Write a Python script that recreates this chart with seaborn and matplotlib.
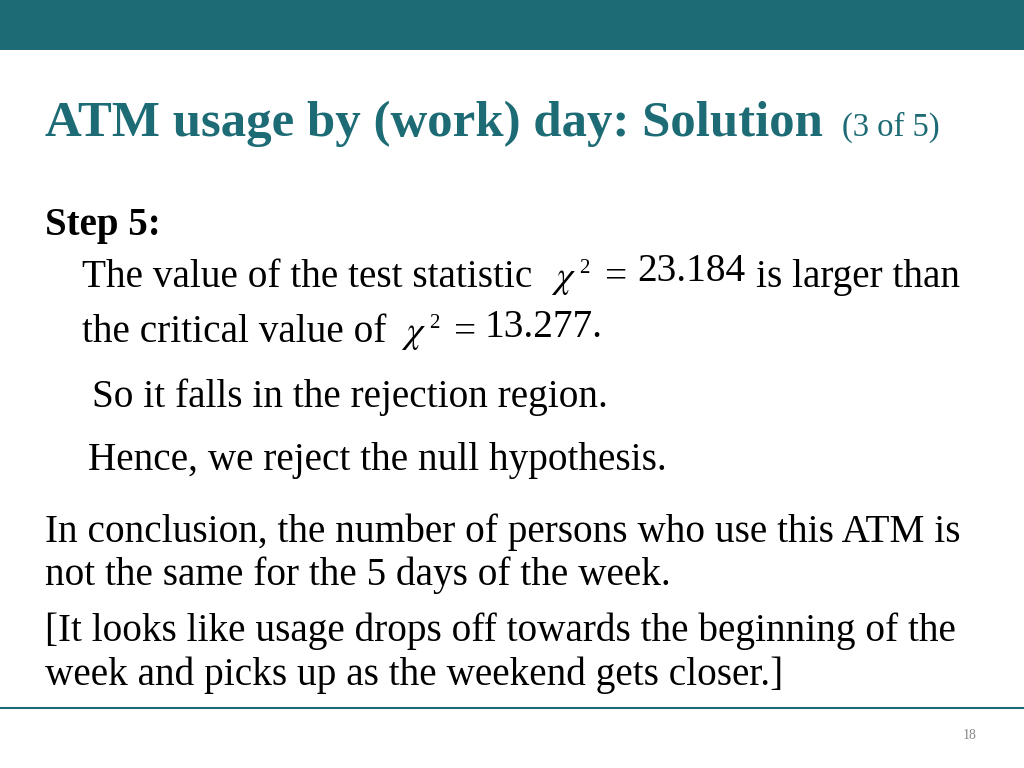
import numpy as np
import matplotlib
matplotlib.use("Agg")
import matplotlib.pyplot as plt
import seaborn as sns

# Contenido de la diapositiva
titulo = "ATM usage by (work) day: Solution"
subtitulo = "(3 of 5)"
paso = "Step 5:"
estadistico = 23.184
critico = 13.277
lineas_paso = [
    "So it falls in the rejection region.",
    "Hence, we reject the null hypothesis.",
]
lineas_conclusion = [
    "In conclusion, the number of persons who use this ATM is",
    "not the same for the 5 days of the week.",
    "[It looks like usage drops off towards the beginning of the",
    "week and picks up as the weekend gets closer.]",
]
pagina = "18"

sns.set_theme(style="white")
plt.rcParams["font.family"] = ["Liberation Serif", "DejaVu Serif"]
plt.rcParams["mathtext.fontset"] = "stix"
plt.rcParams["text.color"] = "black"

teal = "#1c6b75"

fig = plt.figure(figsize=(10.24, 7.68), dpi=100)
ax = fig.add_axes([0, 0, 1, 1])
ax.set_xlim(0, 1024)
ax.set_ylim(768, 0)
ax.axis("off")

# barra superior y linea inferior
ax.axhspan(0, 50, color=teal, lw=0)
ax.axhline(708, color=teal, lw=1.5)

ax.text(45, 136, titulo, color=teal, fontsize=36.6, fontweight="bold", va="baseline")
ax.text(842, 136, subtitulo, color=teal, fontsize=23.5, va="baseline")

ax.text(45, 235, paso, fontsize=28, fontweight="bold", va="baseline")

fs = 28.3


def chi2(x, y):
    # chi cuadrado con el 2 pequeño como en la diapositiva
    ax.text(x, y, r"$\chi$", fontsize=fs - 1, va="baseline")
    ax.text(x + 28, y - 14, "2", fontsize=15, va="baseline")


ax.text(82, 287, "The value of the test statistic", fontsize=fs, va="baseline")
chi2(551, 287)
ax.text(605, 287, "=", fontsize=fs, va="baseline")
ax.text(637, 281, f"{estadistico:.3f}", fontsize=fs, va="baseline")
ax.text(756, 287, "is larger than", fontsize=fs, va="baseline")

ax.text(82, 342, "the critical value of", fontsize=fs, va="baseline")
chi2(401, 342)
ax.text(454, 342, "=", fontsize=fs, va="baseline")
ax.text(484, 337, f"{critico:.3f}.", fontsize=fs, va="baseline")

ax.text(92, 407, lineas_paso[0], fontsize=fs, va="baseline")
ax.text(88, 470, lineas_paso[1], fontsize=fs, va="baseline")

for linea, y in zip(lineas_conclusion, [542, 585, 641, 685]):
    ax.text(45, y, linea, fontsize=fs, va="baseline")

ax.text(970, 739, pagina, color="#888888", fontsize=10, ha="center", va="baseline")

fig.savefig("out.png", dpi=100)
